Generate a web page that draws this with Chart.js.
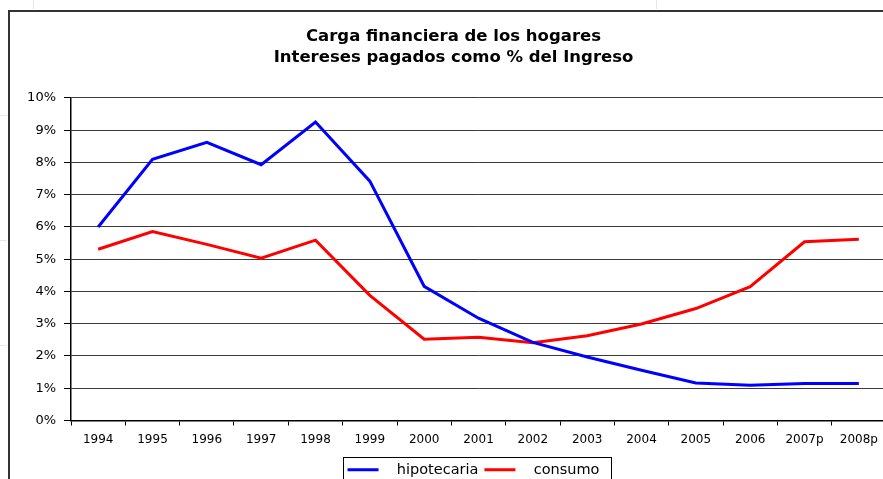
<!DOCTYPE html>
<html>
<head>
<meta charset="utf-8">
<script src="https://cdn.jsdelivr.net/npm/chart.js@4.4.1/dist/chart.umd.min.js"></script>
<style>
  html, body { margin: 0; padding: 0; background: #fff; overflow: hidden; width: 883px; height: 479px; }
  #wrap { position: absolute; left: 0; top: 0; width: 907px; height: 487px; }
</style>
</head>
<body>
<div id="wrap"><canvas id="c" width="907" height="487"></canvas></div>
<script>
const categories = ['1994','1995','1996','1997','1998','1999','2000','2001','2002','2003','2004','2005','2006','2007p','2008p'];
const hipotecaria = [6.00, 8.10, 8.62, 7.93, 9.25, 7.42, 4.16, 3.17, 2.42, 1.97, 1.56, 1.16, 1.09, 1.15, 1.15];
const consumo = [5.31, 5.86, 5.46, 5.03, 5.59, 3.88, 2.52, 2.58, 2.41, 2.63, 2.99, 3.47, 4.15, 5.54, 5.62];
const yTicks = [0,1,2,3,4,5,6,7,8,9,10];
const titleLines = ['Carga financiera de los hogares', 'Intereses pagados como % del Ingreso'];

const framePlugin = {
  id: 'frame',
  afterLayout(chart) {
    const lg = chart.legend;
    if (lg) { lg.left -= 5; lg.right -= 5; }
  },
  beforeDraw(chart) {
    const ctx = chart.ctx;
    ctx.save();
    ctx.fillStyle = '#fff';
    ctx.fillRect(0, 0, chart.width, chart.height);
    ctx.strokeStyle = '#e6e6e6';
    ctx.lineWidth = 1;
    ctx.beginPath();
    ctx.moveTo(33.5, 0); ctx.lineTo(33.5, 9);
    ctx.moveTo(656.5, 0); ctx.lineTo(656.5, 9);
    [115.5, 240.5, 345.5].forEach(y => { ctx.moveTo(0, y); ctx.lineTo(7, y); });
    ctx.stroke();
    ctx.strokeStyle = '#333';
    ctx.lineWidth = 2;
    ctx.beginPath();
    ctx.moveTo(8, 11); ctx.lineTo(chart.width, 11);
    ctx.moveTo(9, 10); ctx.lineTo(9, chart.height);
    ctx.stroke();
    ctx.restore();
  },
  afterDraw(chart) {
    const lg = chart.legend;
    if (!lg || !lg.legendHitBoxes) return;
    const ctx = chart.ctx;
    const hb = lg.legendHitBoxes;
    const colors = chart.data.datasets.map(d => d.borderColor);
    ctx.save();
    ctx.lineWidth = 3;
    hb.forEach((b, i) => {
      const cy = b.top + b.height / 2;
      ctx.strokeStyle = colors[i];
      ctx.beginPath();
      ctx.moveTo(b.left, cy);
      ctx.lineTo(b.left + 31, cy);
      ctx.stroke();
    });
    const first = hb[0], last = hb[hb.length - 1];
    const cy = first.top + first.height / 2;
    ctx.strokeStyle = '#000';
    ctx.lineWidth = 1;
    ctx.strokeRect(Math.round(first.left - 5) + 0.5, Math.round(cy - 12.5) + 0.5,
                   Math.round(last.left + last.width + 11 - (first.left - 5)), 25);
    ctx.restore();
  }
};

new Chart(document.getElementById('c'), {
  type: 'line',
  data: {
    labels: categories,
    datasets: [
      { label: 'hipotecaria', data: hipotecaria, borderColor: '#0000FF', backgroundColor: '#0000FF',
        borderWidth: 3, pointRadius: 0, tension: 0, fill: false },
      { label: 'consumo', data: consumo, borderColor: '#FF0000', backgroundColor: '#FF0000',
        borderWidth: 3, pointRadius: 0, tension: 0, fill: false }
    ]
  },
  options: {
    responsive: false,
    animation: false,
    events: [],
    layout: { padding: { left: 21, right: 21, top: 0, bottom: 0 } },
    font: { family: 'DejaVu Sans' },
    plugins: {
      title: {
        display: true,
        text: titleLines,
        color: '#000',
        font: { family: 'DejaVu Sans', size: 16.5, weight: 'bold', lineHeight: 1.27 },
        padding: { top: 26, bottom: 30 }
      },
      legend: {
        display: true,
        position: 'bottom',
        fullSize: false,
        labels: {
          color: '#000',
          font: { family: 'DejaVu Sans', size: 14.5 },
          boxWidth: 42,
          boxHeight: 3,
          padding: 6,
          generateLabels(chart) {
            return chart.data.datasets.map((d, i) => ({
              text: d.label, fillStyle: 'rgba(0,0,0,0)', strokeStyle: 'rgba(0,0,0,0)',
              lineWidth: 0, hidden: false, datasetIndex: i, fontColor: '#000'
            }));
          }
        }
      },
      tooltip: { enabled: false }
    },
    scales: {
      x: {
        type: 'category',
        offset: true,
        grid: { display: true, offset: true, drawOnChartArea: false, drawTicks: true,
                tickLength: 5, color: '#000', tickColor: '#000', lineWidth: 1 },
        border: { display: true, color: '#000', width: 1.5 },
        ticks: { color: '#000', font: { family: 'DejaVu Sans', size: 12 }, padding: 7,
                 maxRotation: 0, autoSkip: false },
        afterFit(scale) { scale.height = 36; }
      },
      y: {
        min: 0, max: 10,
        afterBuildTicks(scale) { scale.ticks = yTicks.map(v => ({ value: v })); },
        grid: { color: '#3a3a3a', lineWidth: 1, tickLength: 7, tickColor: '#000', drawTicks: true },
        border: { display: true, color: '#000', width: 1.5 },
        ticks: { color: '#000', font: { family: 'DejaVu Sans', size: 13 }, padding: 8,
                 callback: v => v + '%' },
        afterFit(scale) { scale.width = 50; }
      }
    }
  },
  plugins: [framePlugin]
});
</script>
</body>
</html>
